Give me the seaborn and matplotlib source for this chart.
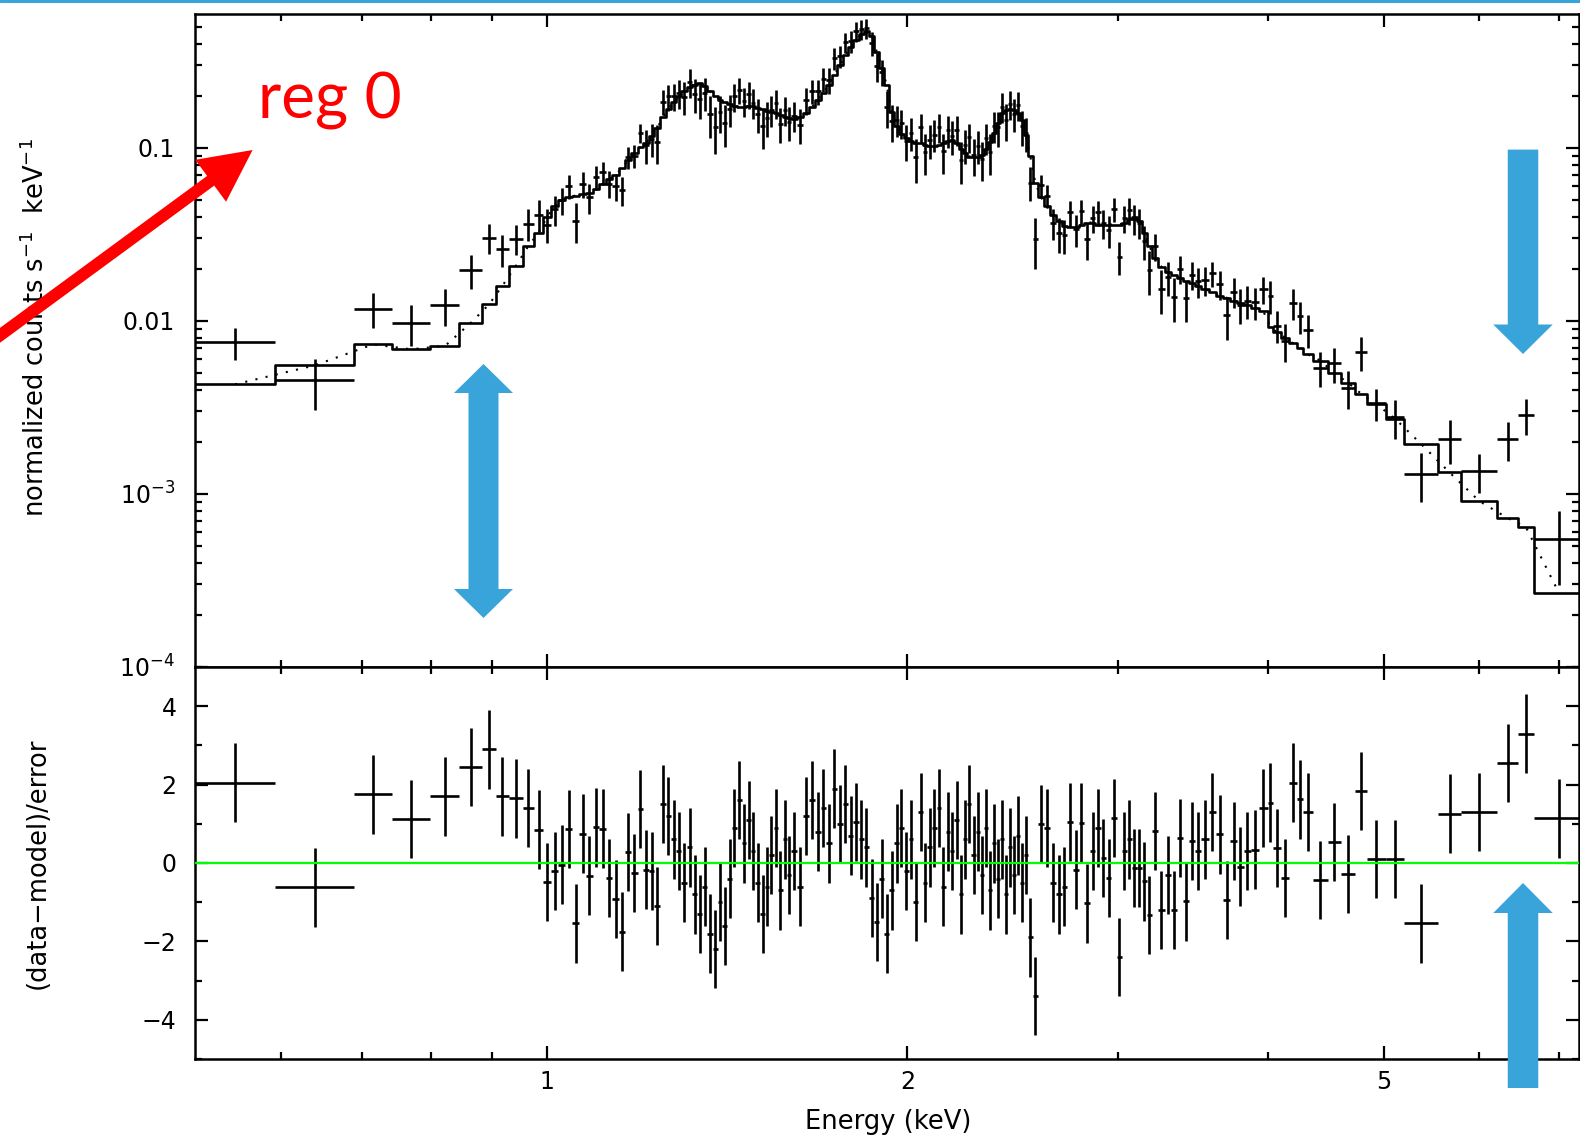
import numpy as np
import pandas as pd
import matplotlib
matplotlib.use("Agg")
import matplotlib.pyplot as plt
import seaborn as sns
from matplotlib.patches import FancyArrow
from matplotlib.transforms import Affine2D
from matplotlib.lines import Line2D
from matplotlib.ticker import FixedLocator, FixedFormatter, LogLocator, NullFormatter, MultipleLocator

# ---------------- data ----------------
bin_edges = [
    0.508, 0.593, 0.690, 0.742, 0.799, 0.845, 0.883, 0.906, 0.929, 0.954, 0.975, 0.993,
    1.008, 1.022, 1.036, 1.050, 1.064, 1.078, 1.092, 1.106, 1.120, 1.134, 1.148, 1.162, 1.176, 1.190, 1.203,
    1.216, 1.229, 1.243, 1.256, 1.269, 1.282, 1.295, 1.309, 1.322, 1.335,
    1.348, 1.361, 1.375, 1.388, 1.401, 1.414, 1.427, 1.441, 1.454, 1.467,
    1.480, 1.493, 1.507, 1.520, 1.533, 1.546, 1.559, 1.573, 1.586, 1.600,
    1.618, 1.637, 1.655, 1.674, 1.692, 1.710, 1.729, 1.747, 1.766, 1.784,
    1.802, 1.821, 1.839, 1.858, 1.876, 1.894, 1.913, 1.931, 1.950, 1.968,
    1.986, 2.005, 2.023, 2.042, 2.060, 2.078, 2.097, 2.115, 2.134, 2.152,
    2.170, 2.189, 2.207, 2.226, 2.244, 2.262, 2.281, 2.299, 2.318, 2.336,
    2.354, 2.373, 2.391, 2.410, 2.428, 2.446, 2.465, 2.483, 2.502, 2.520,
    2.545, 2.570, 2.600, 2.630, 2.660, 2.690, 2.720, 2.750, 2.780, 2.810,
    2.840, 2.870, 2.900, 2.930, 2.960, 2.990, 3.020, 3.050, 3.080, 3.110,
    3.140, 3.170, 3.200, 3.240, 3.280, 3.320, 3.360, 3.400, 3.440, 3.480,
    3.520, 3.570, 3.620, 3.670, 3.720, 3.770, 3.820, 3.870, 3.930, 4.000,
    4.04, 4.10, 4.17, 4.23, 4.28, 4.36, 4.49, 4.60, 4.73, 4.84, 5.02, 5.20,
    5.55, 5.80, 6.22, 6.47, 6.67, 7.35,
]

model_counts = [
    0.00430, 0.00553, 0.00731, 0.00685, 0.00716, 0.00975, 0.01245, 0.0159, 0.0207, 0.0270, 0.0323,
    0.040, 0.046, 0.050, 0.052, 0.053, 0.054, 0.055, 0.058, 0.062, 0.066, 0.070, 0.076, 0.085, 0.093, 0.101,
    0.107, 0.117, 0.130, 0.150, 0.168, 0.183, 0.198, 0.212, 0.226, 0.232,
    0.236, 0.228, 0.212, 0.198, 0.190, 0.184, 0.178, 0.174, 0.173, 0.173,
    0.174, 0.174, 0.170, 0.167, 0.164, 0.161, 0.158, 0.155, 0.151, 0.148,
    0.146, 0.150, 0.158, 0.172, 0.190, 0.208, 0.230, 0.262, 0.300, 0.345,
    0.380, 0.420, 0.455, 0.470, 0.445, 0.360, 0.290, 0.230, 0.160, 0.133,
    0.120, 0.114, 0.110, 0.107, 0.106, 0.104, 0.103, 0.102, 0.104, 0.107,
    0.110, 0.111, 0.106, 0.099, 0.093, 0.089, 0.088, 0.089, 0.091, 0.098,
    0.108, 0.122, 0.140, 0.158, 0.165, 0.168, 0.165, 0.158, 0.145, 0.118,
    0.090, 0.063, 0.052, 0.046, 0.041, 0.038, 0.0355, 0.035, 0.035, 0.036,
    0.037, 0.037, 0.036, 0.036, 0.036, 0.036, 0.036, 0.037, 0.039, 0.040,
    0.038, 0.032, 0.027, 0.023, 0.0205, 0.0192, 0.0184, 0.0176, 0.0170, 0.0165,
    0.0159, 0.0153, 0.0146, 0.0140, 0.0136, 0.0131, 0.0127, 0.0123, 0.0119, 0.0114,
    0.0092, 0.0086, 0.0080, 0.0074, 0.0070, 0.0064, 0.0059, 0.0050, 0.0044, 0.0038, 0.0033, 0.00272,
    0.00194, 0.00133, 0.00091, 0.000725, 0.000645, 0.000268,
]

data_counts = [
    0.00755, 0.00455, 0.01175, 0.00975, 0.01228, 0.0196, 0.0302, 0.0259, 0.0298, 0.0365, 0.0411,
    0.036, 0.044, 0.0497, 0.060, 0.038, 0.062, 0.0517, 0.068, 0.072, 0.062, 0.060, 0.057, 0.088, 0.090, 0.122,
    0.104, 0.113, 0.108, 0.185, 0.198, 0.199, 0.207, 0.197, 0.239, 0.205,
    0.192, 0.208, 0.156, 0.132, 0.161, 0.139, 0.167, 0.198, 0.216, 0.187,
    0.204, 0.182, 0.157, 0.133, 0.149, 0.166, 0.181, 0.138, 0.165, 0.141,
    0.153, 0.136, 0.188, 0.214, 0.212, 0.250, 0.246, 0.329, 0.338, 0.408,
    0.412, 0.470, 0.485, 0.490, 0.401, 0.296, 0.275, 0.172, 0.142, 0.145,
    0.139, 0.110, 0.122, 0.088, 0.131, 0.0945, 0.111, 0.119, 0.131, 0.0956,
    0.126, 0.117, 0.127, 0.0846, 0.104, 0.115, 0.091, 0.103, 0.086, 0.114,
    0.0947, 0.133, 0.131, 0.173, 0.144, 0.178, 0.157, 0.176, 0.133, 0.122,
    0.063, 0.0297, 0.061, 0.053, 0.037, 0.032, 0.0313, 0.0423, 0.0338, 0.0432,
    0.0296, 0.0392, 0.0423, 0.0369, 0.0333, 0.0441, 0.0235, 0.0392, 0.0435, 0.039,
    0.037, 0.029, 0.0197, 0.0269, 0.0153, 0.018, 0.0137, 0.0200, 0.0135, 0.0185,
    0.0169, 0.0173, 0.0188, 0.0163, 0.0108, 0.0147, 0.0124, 0.0131, 0.0128, 0.0152,
    0.0139, 0.0094, 0.00766, 0.0127, 0.0106, 0.0089, 0.00537, 0.0057, 0.00411, 0.0066, 0.00334, 0.00279,
    0.00131, 0.00208, 0.00135, 0.00208, 0.00285, 0.000547,
]

data_err = [
    0.0016, 0.0015, 0.0027, 0.0026, 0.0029, 0.0043, 0.0060, 0.0054, 0.0058, 0.0075, 0.0085,
    0.008, 0.0085, 0.009, 0.0095, 0.0097, 0.0105, 0.010, 0.011, 0.0113, 0.011, 0.011, 0.011, 0.013, 0.014, 0.016,
    0.023, 0.024, 0.027, 0.031, 0.034, 0.036, 0.039, 0.042, 0.045, 0.046,
    0.046, 0.045, 0.042, 0.040, 0.039, 0.038, 0.036, 0.036, 0.036, 0.036,
    0.036, 0.036, 0.035, 0.035, 0.034, 0.034, 0.034, 0.032, 0.032, 0.031,
    0.030, 0.031, 0.033, 0.034, 0.036, 0.039, 0.042, 0.046, 0.049, 0.055,
    0.058, 0.062, 0.065, 0.066, 0.064, 0.056, 0.048, 0.042, 0.034, 0.030,
    0.027, 0.026, 0.026, 0.025, 0.025, 0.025, 0.025, 0.025, 0.025, 0.025,
    0.026, 0.026, 0.025, 0.023, 0.023, 0.022, 0.022, 0.022, 0.022, 0.023,
    0.025, 0.027, 0.030, 0.033, 0.034, 0.034, 0.034, 0.033, 0.031, 0.027,
    0.014, 0.0098, 0.009, 0.008, 0.0075, 0.0072, 0.007, 0.007, 0.007, 0.007,
    0.0072, 0.0072, 0.007, 0.007, 0.007, 0.007, 0.0052, 0.0072, 0.0075, 0.0077,
    0.0073, 0.0064, 0.0055, 0.0048, 0.0043, 0.004, 0.0039, 0.0037, 0.0036, 0.0035,
    0.0034, 0.0033, 0.0032, 0.0031, 0.003, 0.0029, 0.0028, 0.0028, 0.0027, 0.0027,
    0.0030, 0.0020, 0.0019, 0.0026, 0.0022, 0.0019, 0.0012, 0.0013, 0.0010, 0.0015, 0.0007, 0.0007,
    0.00041, 0.0006, 0.00034, 0.00054, 0.00067, 0.00025,
]

residuals = [
    2.05, -0.62, 1.75, 1.13, 1.70, 2.45, 2.90, 1.70, 1.65, 1.40, 0.85,
    -0.49, -0.20, -0.04, 0.87, -1.54, 0.75, -0.32, 0.91, 0.88, -0.38, -0.92, -1.75, 0.28, -0.26, 1.37,
    -0.17, -0.20, -1.10, 1.50, 1.20, 0.60, 0.30, -0.50, 0.40, -0.80,
    -1.30, -0.60, -1.80, -2.20, -1.00, -1.60, -0.40, 0.90, 1.60, 0.50,
    1.10, 0.30, -0.50, -1.30, -0.60, 0.20, 0.90, -0.70, 0.60, -0.30,
    0.3, -0.6, 1.2, 1.6, 0.8, 1.4, 0.5, 1.9, 1.0, 1.5,
    0.7, 1.05, 0.6, 0.4, -0.9, -1.5, -0.4, -1.8, -0.7, 0.5,
    0.9, -0.2, 0.6, -1.0, 1.3, -0.5, 0.4, 0.9, 1.4, -0.6,
    0.8, 0.3, 1.1, -0.8, 0.6, 1.5, 0.2, 0.8, -0.3, 0.9,
    -0.7, 0.5, -0.4, 0.6, -0.8, 0.4, -0.3, 0.7, -0.5, 0.2,
    -1.9, -3.4, 1.0, 0.9, -0.5, -0.8, -0.6, 1.04, -0.17, 1.03,
    -1.03, 0.3, 0.9, 0.13, -0.38, 1.15, -2.4, 0.3, 0.6, -0.13,
    -0.13, -0.47, -1.32, 0.81, -1.2, -0.3, -1.2, 0.64, -0.98, 0.56,
    0.3, 0.6, 1.3, 0.73, -0.94, 0.56, -0.09, 0.3, 0.34, 1.4,
    1.54, 0.38, -0.38, 2.05, 1.62, 1.3, -0.44, 0.54, -0.28, 1.84, 0.1, 0.1,
    -1.54, 1.26, 1.3, 2.55, 3.3, 1.14,
]

x_major_ticks = [1, 2, 5]
x_major_labels = ["1", "2", "5"]
x_minor_ticks = [0.6, 0.7, 0.8, 0.9, 3, 4, 6, 7]
y_top_ticks = [1e-4, 1e-3, 1e-2, 1e-1]
y_top_labels = [r"$\mathregular{10^{-4}}$", r"$\mathregular{10^{-3}}$", "0.01", "0.1"]
resid_ticks = [-4, -2, 0, 2, 4]
resid_labels = ["\u22124", "\u22122", "0", "2", "4"]

n = len(bin_edges) - 1
for name, arr in [("model", model_counts), ("data", data_counts), ("err", data_err), ("resid", residuals)]:
    if len(arr) != n:
        raise SystemExit(f"{name} has {len(arr)} values, expected {n}")

# ---------------- figure ----------------
W, H = 1580, 1139
sns.set_theme(style="ticks")
plt.rcParams["font.family"] = ["DejaVu Sans"]
plt.rcParams["mathtext.fontset"] = "dejavusans"

edges = np.array(bin_edges)
lo, hi = edges[:-1], edges[1:]
centre = np.sqrt(lo * hi)
df = pd.DataFrame({"energy": centre, "lo": lo, "hi": hi, "counts": data_counts,
                   "err": data_err, "model": model_counts, "resid": residuals})

fig = plt.figure(figsize=(W / 100, H / 100), dpi=100)
fig.patch.set_facecolor("white")
L, R = 194.5 / W, 1578.5 / W
ax1 = fig.add_axes([L, 1 - 667 / H, R - L, (667 - 14) / H])
ax2 = fig.add_axes([L, 1 - 1059 / H, R - L, (1059 - 667) / H], sharex=ax1)

for ax in (ax1, ax2):
    ax.set_facecolor("white")
    ax.set_xscale("log")
ax1.set_yscale("log")

LW = 1.9
# model step line (histogram style) and dotted model
step_x = np.column_stack([df["lo"], df["hi"]]).ravel()
step_y = np.repeat(df["model"].values, 2)
sns.lineplot(x=step_x, y=step_y, ax=ax1, sort=False, estimator=None,
             color="black", linewidth=1.9, zorder=3)
sns.lineplot(data=df, x="energy", y="model", ax=ax1, sort=False, estimator=None,
             color="black", linewidth=1.5, linestyle=(0, (1, 4)), zorder=3)

xerr = [df["energy"] - df["lo"], df["hi"] - df["energy"]]
ax1.errorbar(df["energy"], df["counts"], xerr=xerr, yerr=df["err"], fmt="none",
             ecolor="black", elinewidth=LW, capsize=0, zorder=4)

ax2.errorbar(df["energy"], df["resid"], xerr=xerr, yerr=1.0, fmt="none",
             ecolor="black", elinewidth=LW, capsize=0, zorder=3)
ax2.axhline(0, color="#00FF00", linewidth=1.6, zorder=5)

ax1.set_xlim(0.5076, 7.27)
ax1.set_ylim(1e-4, 0.593)
ax2.set_ylim(-5, 5)

ax1.xaxis.set_major_locator(FixedLocator(x_major_ticks))
ax1.xaxis.set_major_formatter(FixedFormatter(x_major_labels))
ax1.xaxis.set_minor_locator(FixedLocator(x_minor_ticks))
ax1.xaxis.set_minor_formatter(NullFormatter())

ax1.yaxis.set_major_locator(FixedLocator(y_top_ticks))
ax1.yaxis.set_major_formatter(FixedFormatter(y_top_labels))
ax1.yaxis.set_minor_locator(LogLocator(base=10, subs=np.arange(2, 10)))
ax1.yaxis.set_minor_formatter(NullFormatter())

ax2.yaxis.set_major_locator(FixedLocator(resid_ticks))
ax2.yaxis.set_major_formatter(FixedFormatter(resid_labels))
ax2.yaxis.set_minor_locator(MultipleLocator(1))

for ax in (ax1, ax2):
    ax.tick_params(which="both", direction="in", top=True, right=True, bottom=True, left=True,
                   color="black", width=1.6, labelcolor="black")
    ax.tick_params(which="major", length=9.4)
    ax.tick_params(which="minor", length=5)
    for s in ax.spines.values():
        s.set_color("black")
        s.set_linewidth(1.8)
        s.set_visible(True)
    ax.grid(False)
    ax.set_xlabel("")
    ax.set_ylabel("")
ax1.tick_params(axis="x", which="both", labelbottom=False)
ax1.tick_params(axis="y", labelsize=17, pad=14)
ax2.tick_params(axis="y", labelsize=17, pad=13)
ax2.tick_params(axis="x", labelsize=17, pad=8)

fig.text(36 / W, 1 - 328 / H, r"normalized counts s$\mathregular{^{-1}}$  keV$\mathregular{^{-1}}$",
         rotation=90, ha="center", va="center", fontsize=18.5, color="black")
fig.text(37.5 / W, 1 - 863 / H, "(data\u2212model)/error",
         rotation=90, ha="center", va="center", fontsize=18.5, color="black")
fig.text(888 / W, 1 - 1122 / H, "Energy (keV)", ha="center", va="center",
         fontsize=18.5, color="black")

# ---------------- annotations ----------------
pix = Affine2D().scale(1 / W, -1 / H).translate(0, 1) + fig.transFigure
BLUE = "#38A4DA"


def arrow(x0, y0, x1, y1, width, head_w, head_l, color):
    a = FancyArrow(x0, y0, x1 - x0, y1 - y0, width=width, head_width=head_w,
                   head_length=head_l, length_includes_head=True, color=color,
                   linewidth=0, transform=pix, zorder=10)
    fig.add_artist(a)


fig.add_artist(Line2D([0, 1], [1 - 1.2 / H, 1 - 1.2 / H], transform=fig.transFigure,
                      color=BLUE, linewidth=2.2))

fig.text(258 / W, 1 - 118 / H, "reg 0", fontsize=46, color="#FF0000",
         family=["Lato", "DejaVu Sans"], ha="left", va="baseline")
arrow(-20, 350, 252.6, 150, 12, 52, 52, "#FF0000")

arrow(483.5, 491, 483.5, 364, 30, 59, 29, BLUE)
arrow(483.5, 491, 483.5, 618, 30, 59, 29, BLUE)
arrow(1523, 149.6, 1523, 354, 30.5, 59.5, 29.5, BLUE)
arrow(1523, 1088, 1523, 883, 30.5, 59.5, 30, BLUE)

fig.savefig("out.png", dpi=100, facecolor="white")
